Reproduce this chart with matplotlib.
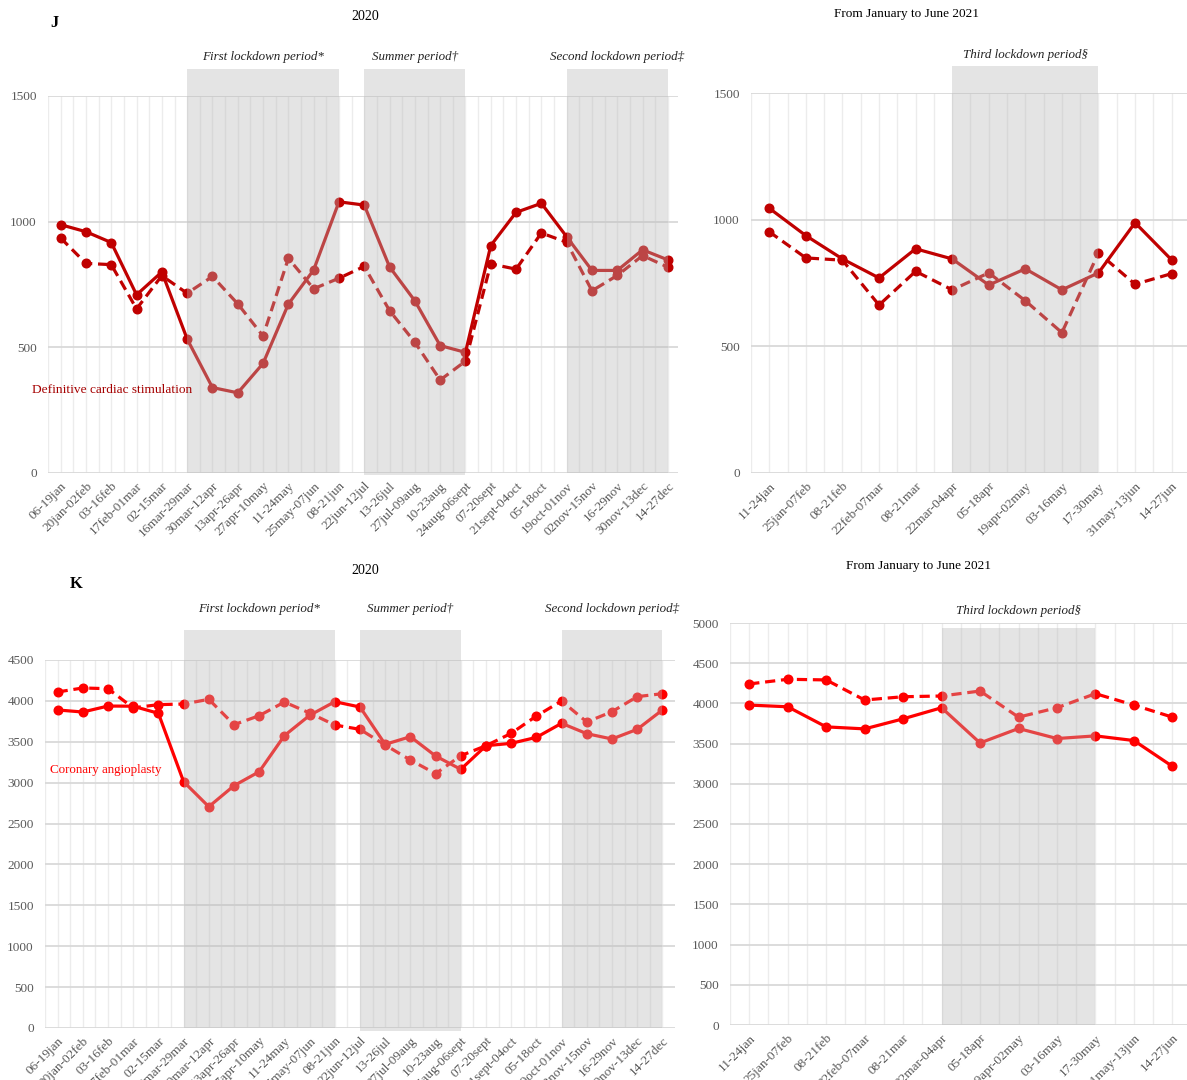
import numpy as np
import matplotlib
matplotlib.use("Agg")
import matplotlib.pyplot as plt
from matplotlib.patches import Rectangle

plt.rcParams["font.family"] = ["Liberation Serif", "DejaVu Serif"]

W, H = 1187, 1080

weeks_2020 = ["06-19jan", "20jan-02feb", "03-16feb", "17feb-01mar", "02-15mar",
              "16mar-29mar", "30mar-12apr", "13apr-26apr", "27apr-10may", "11-24may",
              "25may-07jun", "08-21jun", "22jun-12jul", "13-26jul", "27jul-09aug",
              "10-23aug", "24aug-06sept", "07-20sept", "21sept-04oct", "05-18oct",
              "19oct-01nov", "02nov-15nov", "16-29nov", "30nov-13dec", "14-27dec"]
weeks_2021 = ["11-24jan", "25jan-07feb", "08-21feb", "22feb-07mar", "08-21mar",
              "22mar-04apr", "05-18apr", "19apr-02may", "03-16may", "17-30may",
              "31may-13jun", "14-27jun"]

# J: definitive cardiac stimulation
stim_2020 = [988, 960, 917, 709, 800, 533, 340, 319, 436, 672, 808, 1079, 1066,
             820, 685, 507, 480, 905, 1037, 1073, 940, 806, 806, 888, 848]
stim_2020_ref = [935, 834, 829, 653, 785, 715, 782, 673, 545, 854, 733, 775, 822,
                 646, 520, 370, 445, 832, 811, 955, 918, 725, 786, 865, 819]
stim_2021 = [1045, 937, 845, 770, 885, 845, 742, 806, 723, 790, 988, 841]
stim_2021_ref = [952, 849, 840, 663, 796, 723, 790, 680, 554, 869, 745, 787]

# K: coronary angioplasty
angio_2020 = [3889, 3864, 3937, 3935, 3848, 3012, 2706, 2963, 3134, 3575, 3823,
              3990, 3925, 3469, 3562, 3326, 3163, 3452, 3481, 3554, 3726, 3599,
              3534, 3652, 3889]
angio_2020_ref = [4109, 4158, 4149, 3915, 3954, 3962, 4019, 3709, 3819, 3986, 3852,
                  3705, 3652, 3460, 3277, 3110, 3330, 3452, 3603, 3815, 3999, 3742,
                  3868, 4052, 4088]
angio_2021 = [3979, 3958, 3708, 3683, 3808, 3946, 3508, 3688, 3563, 3596, 3538, 3217]
angio_2021_ref = [4242, 4300, 4292, 4042, 4083, 4092, 4154, 3829, 3946, 4121, 3979, 3829]

periods_2020 = [("First lockdown period*", 5, 11), ("Summer period\u2020", 12, 16),
                ("Second lockdown period\u2021", 20, 24)]
periods_2021 = [("Third lockdown period\u00a7", 5, 9)]


def px_axes(fig, x0, x1, y_top, y_bot):
    return fig.add_axes([x0 / W, 1 - y_bot / H, (x1 - x0) / W, (y_bot - y_top) / H])


def panel(ax, labels, cur, ref, color, ymax, step, xmax, periods, shade_top,
          label_y, low=None):
    n = len(labels)
    x = np.arange(n)
    ax.set_xlim(-0.5, xmax)
    ax.set_ylim(0, ymax)
    for s in ax.spines.values():
        s.set_visible(False)
    for g in np.arange(-0.5, xmax, 0.5):
        ax.axvline(g, color="#ECECEC", lw=1, zorder=0)
    for t in np.arange(0, ymax + 1, step):
        ax.axhline(t, color="#D9D9D9", lw=1.3, zorder=0.5)
    ax.plot(x, cur, color=color, lw=2.3, marker="o", ms=6.2, zorder=2, clip_on=False)
    ax.plot(x, ref, color=color, lw=2.3, ls=(0, (3.2, 1.8)), marker="o", ms=6.2,
            zorder=2, clip_on=False)
    for name, a, b in periods:
        bot = 0
        if low is not None and name.startswith("Summer"):
            bot = low
        ax.add_patch(Rectangle((a, bot), b - a, shade_top - bot, facecolor="#B8B8B8",
                               alpha=0.38, edgecolor="none", zorder=3, clip_on=False))
        ax.text((a + b) / 2, label_y, name, ha="center", va="center", style="italic",
                fontsize=9.4, color="#222222", clip_on=False)
    ax.set_xticks(x)
    ax.set_xticklabels(labels, rotation=45, ha="right", rotation_mode="anchor",
                       fontsize=9, color="#595959")
    ax.set_yticks(np.arange(0, ymax + 1, step))
    ax.tick_params(length=0, colors="#595959", labelsize=9.5)
    ax.tick_params(axis="y", pad=8)
    ax.tick_params(axis="x", pad=5)


fig = plt.figure(figsize=(W / 100, H / 100), dpi=100)

ax1 = px_axes(fig, 48, 678, 96, 473)
panel(ax1, weeks_2020, stim_2020, stim_2020_ref, "#C00000", 1500, 500, 24.4,
      periods_2020, 1607, 1655, low=-8)
ax2 = px_axes(fig, 751, 1187, 93, 473)
panel(ax2, weeks_2021, stim_2021, stim_2021_ref, "#C00000", 1500, 500, 11.42,
      periods_2021, 1607, 1650)
ax3 = px_axes(fig, 45, 675, 660, 1028)
panel(ax3, weeks_2020, angio_2020, angio_2020_ref, "#FF0000", 4500, 500, 24.5,
      periods_2020, 4870, 5125, low=-40)
ax4 = px_axes(fig, 730, 1187, 623, 1025)
panel(ax4, weeks_2021, angio_2021, angio_2021_ref, "#FF0000", 5000, 500, 11.38,
      periods_2021, 4938, 5150)

fig.text(50 / W, 1 - 23 / H, "J", fontsize=12, fontweight="bold", va="center")
fig.text(70 / W, 1 - 584 / H, "K", fontsize=12, fontweight="bold", va="center")
fig.text(365 / W, 1 - 17 / H, "2020", fontsize=10, ha="center", va="center")
fig.text(365 / W, 1 - 571 / H, "2020", fontsize=10, ha="center", va="center")
fig.text(906 / W, 1 - 14 / H, "From January to June 2021", fontsize=9.5,
         ha="center", va="center")
fig.text(919 / W, 1 - 566 / H, "From January to June 2021", fontsize=9.5,
         ha="center", va="center")
fig.text(32 / W, 1 - 390 / H, "Definitive cardiac stimulation", fontsize=9.6,
         color="#A50000", va="center")
fig.text(50 / W, 1 - 770 / H, "Coronary angioplasty", fontsize=9.4,
         color="#FF0000", va="center")

fig.savefig("out.png", dpi=100)
